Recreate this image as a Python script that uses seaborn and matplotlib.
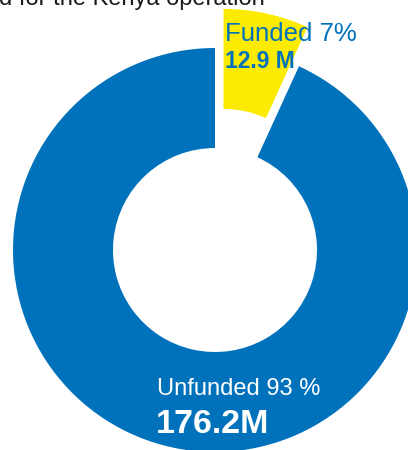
import matplotlib
matplotlib.use("Agg")
import matplotlib.pyplot as plt
import seaborn as sns

# funding status (USD millions)
labels = ["Funded", "Unfunded"]
amounts = [12.9, 176.2]
percents = [7, 93]
colors = ["#FAEB00", "#0072BC"]

sns.set_style("white")
plt.rcParams['font.family'] = ['Liberation Sans', 'DejaVu Sans']

fig = plt.figure(figsize=(4.08, 4.5), dpi=100)
ax = fig.add_axes([0, 0, 1, 1])

# pixel-like coordinate frame, y up
H = 450
cx, cy = 215, H - 250
ax.pie(amounts, colors=colors, startangle=90, counterclock=False,
       radius=202, center=(cx, cy), explode=[40, 0],
       wedgeprops=dict(width=100, edgecolor='none', linewidth=0))
ax.set_xlim(0, 408)
ax.set_ylim(0, H)
ax.set_aspect('equal')
ax.axis('off')

# cropped title at the top
ax.text(-1, H - 5, "d for the Kenya operation", fontsize=17, color="#1a1a1a",
        ha='left', va='baseline')

ax.text(225, H - 41, f"{labels[0]} {percents[0]}%", fontsize=18.5, color="#0072BC",
        ha='left', va='baseline')
ax.text(225, H - 68, f"{amounts[0]} M", fontsize=16.5, color="#0072BC",
        fontweight='bold', ha='left', va='baseline')

ax.text(157, H - 395, f"{labels[1]} {percents[1]} %", fontsize=17, color="white",
        ha='left', va='baseline')
ax.text(156, H - 433, f"{amounts[1]}M", fontsize=24.5, color="white",
        fontweight='bold', ha='left', va='baseline')

fig.savefig("out.png", dpi=100)
